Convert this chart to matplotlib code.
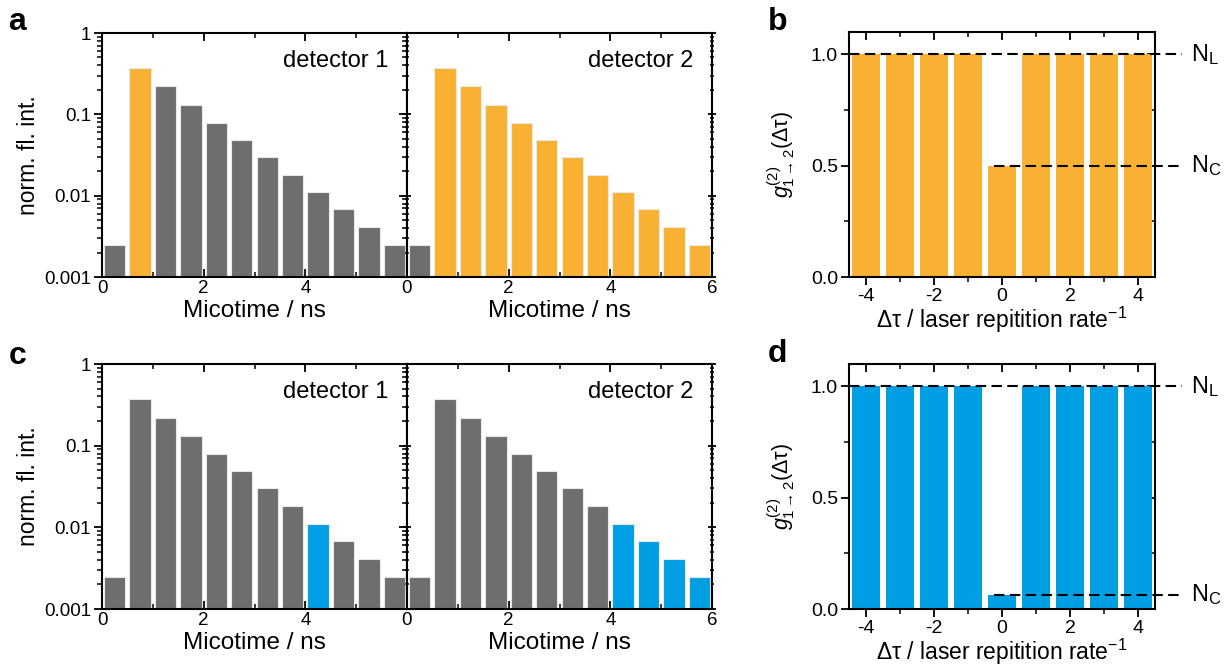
import matplotlib
matplotlib.use("Agg")
import matplotlib.pyplot as plt
import numpy as np
from matplotlib.ticker import FixedLocator, NullFormatter, LogLocator

plt.rcParams['font.family'] = ['Liberation Sans', 'DejaVu Sans']
plt.rcParams['mathtext.fontset'] = 'custom'
plt.rcParams['mathtext.rm'] = 'Liberation Sans'
plt.rcParams['mathtext.it'] = 'Liberation Sans:italic'
plt.rcParams['mathtext.bf'] = 'Liberation Sans:bold'
plt.rcParams['axes.unicode_minus'] = False

# microtime histogram (same decay on both detectors)
bin_centers = np.arange(0.25, 6.0, 0.5)
decay = [0.0025, 0.37, 0.22, 0.132, 0.079, 0.049, 0.030, 0.018, 0.011, 0.0068, 0.0041, 0.0025]

# which bins are gated (highlighted) per panel / detector
gate_a_det1 = [1]
gate_a_det2 = [1, 2, 3, 4, 5, 6, 7, 8, 9, 10, 11]
gate_c_det1 = [8]
gate_c_det2 = [8, 9, 10, 11]

# cross-correlation amplitudes
lag = [-4, -3, -2, -1, 0, 1, 2, 3, 4]
g2_b = [1.0, 1.0, 1.0, 1.0, 0.5, 1.0, 1.0, 1.0, 1.0]
g2_d = [1.0, 1.0, 1.0, 1.0, 0.065, 1.0, 1.0, 1.0, 1.0]

GRAY = '#6e6e6e'
ORANGE = '#f8b133'
BLUE = '#009fe3'

fig = plt.figure(figsize=(12.31, 6.68), dpi=100)
W, H = 1231.0, 668.0


def add_ax(x0, y0, x1, y1):
    return fig.add_axes([x0 / W, 1 - y1 / H, (x1 - x0) / W, (y1 - y0) / H])


def style_spines(ax):
    for s in ax.spines.values():
        s.set_linewidth(1.5)


def hist_panel(ax, gate, color, label, first):
    cols = [color if i in gate else GRAY for i in range(len(decay))]
    ax.bar(bin_centers, decay, width=0.42, color=cols, edgecolor='#e8e8e8',
           linewidth=0.8, zorder=2)
    ax.set_yscale('log')
    ax.set_ylim(0.001, 1)
    ax.set_xlim(0, 6)
    style_spines(ax)
    ax.yaxis.set_major_locator(FixedLocator([0.001, 0.01, 0.1, 1]))
    ax.yaxis.set_minor_locator(LogLocator(base=10, subs=np.arange(2, 10)))
    ax.yaxis.set_minor_formatter(NullFormatter())
    if first:
        ax.set_xticks([0, 2, 4])
        ax.set_yticklabels(['0.001', '0.01', '0.1', '1'])
        ax.set_ylabel('norm. fl. int.', fontsize=16.5, labelpad=3)
    else:
        ax.set_xticks([0, 2, 4, 6])
        ax.set_yticklabels([])
    ax.xaxis.set_minor_locator(FixedLocator([1, 3, 5]))
    ax.tick_params(axis='both', which='major', labelsize=13.5, width=1.3,
                   length=6, pad=2)
    ax.tick_params(axis='both', which='minor', width=1.1, length=3.5)
    ax.tick_params(axis='x', which='both', bottom=True, top=True, direction='out')
    ax.tick_params(axis='x', which='both', top=True, direction='in')
    ax.tick_params(axis='y', which='both', left=True, right=True)
    if first:
        ax.tick_params(axis='y', which='both', direction='out')
        for t in ax.yaxis.get_major_ticks() + ax.yaxis.get_minor_ticks():
            t.tick2line.set_marker(matplotlib.lines.TICKLEFT)
    else:
        ax.tick_params(axis='y', which='both', direction='inout')
    ax.set_xlabel('Micotime / ns', fontsize=17.5, labelpad=2)
    ax.text(0.94, 0.86, label, transform=ax.transAxes, ha='right',
            va='baseline', fontsize=17)


def g2_panel(ax, values, color):
    ax.bar(lag, values, width=0.82, color=color, zorder=2)
    ax.set_xlim(-4.5, 4.5)
    ax.set_ylim(0, 1.1)
    style_spines(ax)
    ax.set_xticks([-4, -2, 0, 2, 4])
    ax.xaxis.set_minor_locator(FixedLocator([-3, -1, 1, 3]))
    ax.set_yticks([0.0, 0.5, 1.0])
    ax.set_yticklabels(['0.0', '0.5', '1.0'])
    ax.yaxis.set_minor_locator(FixedLocator([0.25, 0.75]))
    ax.tick_params(axis='both', which='major', labelsize=14, width=1.3,
                   length=6, pad=2)
    ax.tick_params(axis='both', which='minor', width=1.1, length=3.5)
    ax.tick_params(axis='both', which='both', direction='out',
                   top=True, right=True)
    for t in (ax.xaxis.get_major_ticks() + ax.xaxis.get_minor_ticks()):
        t.tick2line.set_marker(matplotlib.lines.TICKDOWN)
    for t in (ax.yaxis.get_major_ticks() + ax.yaxis.get_minor_ticks()):
        t.tick2line.set_marker(matplotlib.lines.TICKLEFT)
    ax.set_ylabel(r'$g^{(2)}_{1\rightarrow2}(\mathrm{\Delta\tau})$',
                  fontsize=15.5, labelpad=10)
    ax.set_xlabel(r'Δτ / laser repitition rate$^{\mathregular{-1}}$',
                  fontsize=16.5, labelpad=0)
    n_l = values[0]
    n_c = values[4]
    dash = (0, (5, 2.6))
    ax.plot([-4.5, 5.3], [n_l, n_l], color='black', lw=1.5, ls=dash,
            clip_on=False, zorder=3)
    ax.plot([-0.25, 5.3], [n_c, n_c], color='black', lw=1.5, ls=dash,
            clip_on=False, zorder=3)
    ax.text(5.55, n_l, r'N$_\mathregular{L}$', fontsize=17,
            va='center', ha='left', clip_on=False)
    ax.text(5.55, n_c, r'N$_\mathregular{C}$', fontsize=17,
            va='center', ha='left', clip_on=False)


# row 1
ax_a1 = add_ax(102, 33, 407, 277)
ax_a2 = add_ax(407, 33, 712, 277)
ax_b = add_ax(849, 32, 1155, 277)
# row 2
ax_c1 = add_ax(102, 364, 407, 609)
ax_c2 = add_ax(407, 364, 712, 609)
ax_d = add_ax(849, 364, 1155, 609)

hist_panel(ax_a1, gate_a_det1, ORANGE, 'detector 1', True)
hist_panel(ax_a2, gate_a_det2, ORANGE, 'detector 2', False)
hist_panel(ax_c1, gate_c_det1, BLUE, 'detector 1', True)
hist_panel(ax_c2, gate_c_det2, BLUE, 'detector 2', False)
g2_panel(ax_b, g2_b, ORANGE)
g2_panel(ax_d, g2_d, BLUE)

for letter, x, y in [('a', 8, 30), ('b', 768, 30), ('c', 9, 364), ('d', 768, 362)]:
    fig.text(x / W, 1 - y / H, letter, fontsize=23, fontweight='bold',
             ha='left', va='baseline')

fig.savefig('out.png', dpi=100)
